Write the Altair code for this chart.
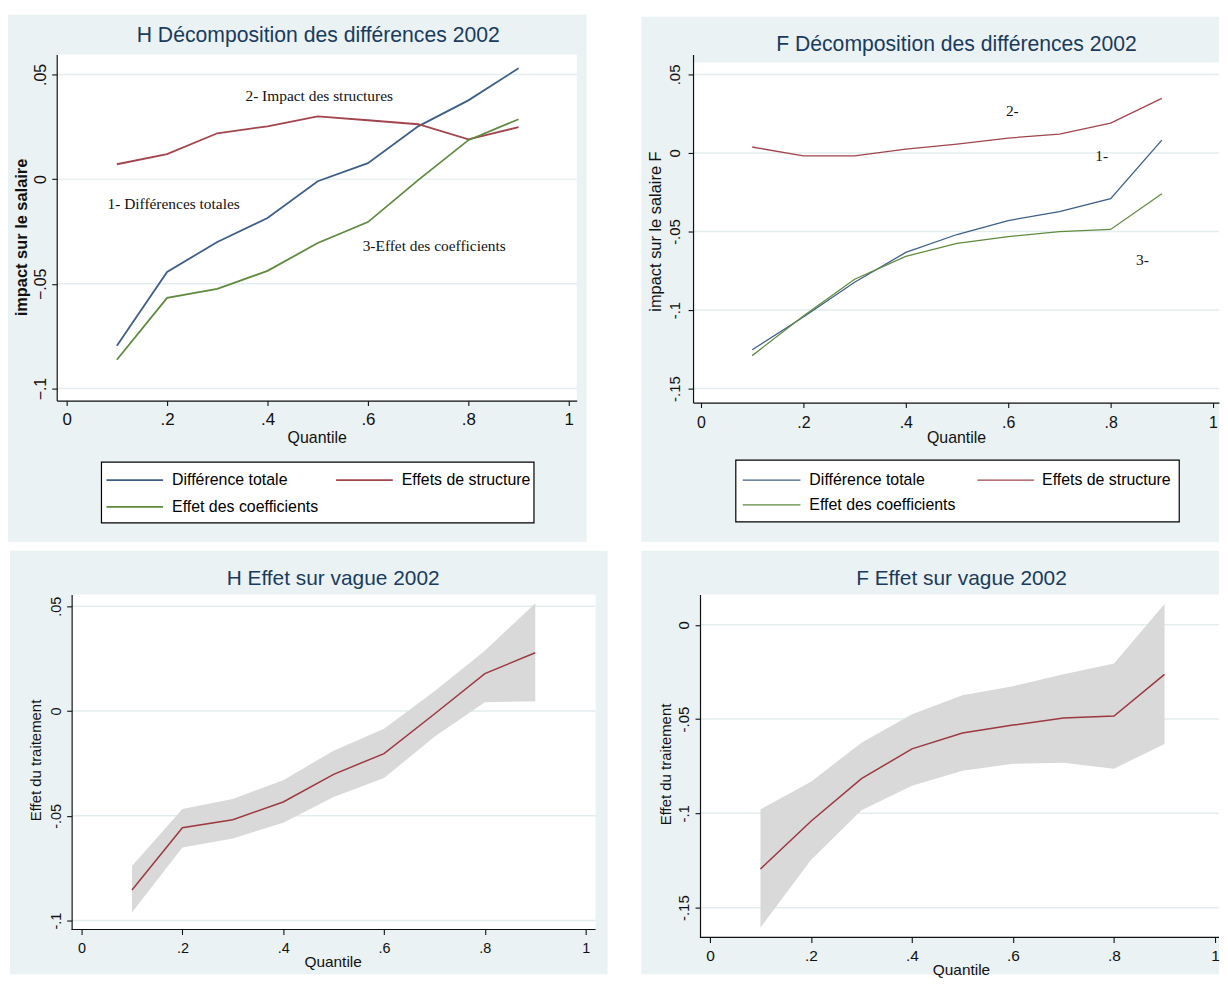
import altair as alt
import pandas as pd

# ---------------- data ----------------
quantiles = [0.1, 0.2, 0.3, 0.4, 0.5, 0.6, 0.7, 0.8, 0.9]
series_names = ["Différence totale", "Effets de structure", "Effet des coefficients"]
x_ticks = [0, 0.2, 0.4, 0.6, 0.8, 1]

# H : décomposition
h_total = [-0.0795, -0.0443, -0.0300, -0.0186, -0.0010, 0.0076, 0.0252, 0.0376, 0.0529]
h_structure = [0.0071, 0.0119, 0.0219, 0.0252, 0.0300, 0.0281, 0.0262, 0.0190, 0.0248]
h_coef = [-0.0862, -0.0567, -0.0524, -0.0438, -0.0305, -0.0205, -0.0005, 0.0186, 0.0286]
h_dec_yticks = [0.05, 0, -0.05, -0.1]
h_notes = ["2- Impact des structures", "1- Différences totales", "3-Effet des coefficients"]
h_notes_q = [0.503, 0.213, 0.732]
h_notes_v = [0.0395, -0.0119, -0.0319]

# F : décomposition
f_total = [-0.1253, -0.1044, -0.0823, -0.0633, -0.0519, -0.0430, -0.0373, -0.0291, 0.0082]
f_structure = [0.0038, -0.0019, -0.0019, 0.0025, 0.0057, 0.0095, 0.0120, 0.0190, 0.0348]
f_coef = [-0.1290, -0.1038, -0.0804, -0.0658, -0.0576, -0.0532, -0.0500, -0.0487, -0.0260]
f_dec_yticks = [0.05, 0, -0.05, -0.1, -0.15]
f_notes = ["2-", "1-", "3-"]
f_notes_q = [0.608, 0.7825, 0.862]
f_notes_v = [0.0266, -0.0019, -0.0684]

# H : effet sur vague
h_effect = [-0.0854, -0.0557, -0.0519, -0.0434, -0.0302, -0.0203, -0.0014, 0.0179, 0.0278]
h_upper = [-0.0740, -0.0467, -0.0420, -0.0330, -0.0189, -0.0085, 0.0094, 0.0288, 0.0514]
h_lower = [-0.0962, -0.0651, -0.0608, -0.0533, -0.0410, -0.0320, -0.0123, 0.0042, 0.0047]
h_eff_yticks = [0.05, 0, -0.05, -0.1]

# F : effet sur vague
f_effect = [-0.1295, -0.1042, -0.0816, -0.0658, -0.0574, -0.0532, -0.0495, -0.0484, -0.0263]
f_upper = [-0.0979, -0.0832, -0.0626, -0.0474, -0.0374, -0.0326, -0.0263, -0.0205, 0.0110]
f_lower = [-0.1605, -0.1247, -0.0984, -0.0853, -0.0774, -0.0737, -0.0732, -0.0763, -0.0632]
f_eff_yticks = [0, -0.05, -0.1, -0.15]

# ---------------- styles ----------------
FONT = "Liberation Sans"
SERIF = "Liberation Serif"
PANEL_BG = "#eaf2f3"
GRID = "#e3edef"
INK = "#111111"
TITLE_C = "#1a3b5d"
SERIES_COLORS = ["#3d5f87", "#a2444c", "#5f8a3f"]
BAND = "#d9d9d9"
EFFECT_C = "#9b3840"

one = pd.DataFrame({"k": [0]})


def long_df(values_by_series):
    rows = []
    for name, vals in zip(series_names, values_by_series):
        for q, v in zip(quantiles, vals):
            rows.append({"q": q, "v": v, "serie": name})
    return pd.DataFrame(rows)


def band_df(mid, lo, hi):
    return pd.DataFrame({"q": quantiles, "v": mid, "lo": lo, "hi": hi})


def label_expr(minus):
    e = "replace(replace(format(datum.value, '~g'), '\u2212', '-'), '0.', '.')"
    if minus != "-":
        e = "replace(" + e + ", '-', '" + minus + "')"
    return e


def x_axis(fs, pad, domain=True):
    return alt.Axis(values=x_ticks, labelExpr=label_expr("-"), title=None, grid=False,
                    domain=domain, domainColor=INK, domainWidth=1.2, tickSize=5,
                    tickColor=INK, tickWidth=1.1, labelFont=FONT, labelFontSize=fs,
                    labelColor=INK, labelPadding=pad, labelFlush=False,
                    labelOverlap=False, zindex=1)


def y_axis(ticks, fs, pad, minus, offset=0):
    return alt.Axis(values=ticks, labelExpr=label_expr(minus), title=None, grid=False,
                    domainColor=INK, domainWidth=1.2, tickSize=5, tickColor=INK,
                    tickWidth=1.1, labelFont=FONT, labelFontSize=fs, labelColor=INK,
                    labelPadding=pad, labelAngle=270, labelAlign="center",
                    labelBaseline="bottom", labelFlush=False, labelOverlap=False,
                    offset=offset, zindex=1)


def rect(x, x2, y, y2, color, stroke=None):
    kw = dict(color=color, strokeWidth=0)
    if stroke:
        kw = dict(fill=color, stroke=stroke, strokeWidth=1.2)
    return alt.Chart(one).mark_rect(**kw).encode(
        x=alt.value(x), x2=alt.value(x2), y=alt.value(y), y2=alt.value(y2))


def text(t, x, y, size, angle=0, font=FONT, weight="normal", color=INK, align="center"):
    kw = dict(text=t, fontSize=size, font=font, fontWeight=weight, color=color,
              align=align, baseline="middle")
    if angle:
        kw["angle"] = angle
    return alt.Chart(one).mark_text(**kw).encode(x=alt.value(x), y=alt.value(y))


def legend_layers(box, slots, lw, fs):
    # box = (x, x2, y, y2); slots = [(line_x, line_x2, text_x, y) per series]
    layers = [rect(box[0], box[1], box[2], box[3], "#ffffff", stroke="#000000")]
    for name, color, (lx, lx2, tx, ty) in zip(series_names, SERIES_COLORS, slots):
        layers.append(alt.Chart(one).mark_rule(color=color, strokeWidth=lw).encode(
            x=alt.value(lx), x2=alt.value(lx2), y=alt.value(ty)))
        layers.append(text(name, tx, ty, fs, color="#000000", align="left"))
    return layers


def decomposition_panel(w, h, xdom, ydom, yticks, minus, values, notes, notes_q, notes_v,
                        fs_x, pad_x, fs_y, pad_y, bg, white_y0, title, title_xy,
                        xt_xy, yt_xy, yt_size, yt_weight, leg_box, leg_slots, lw):
    xs = alt.Scale(domain=xdom, nice=False, zero=False)
    ys = alt.Scale(domain=ydom, nice=False, zero=False)
    xax = x_axis(fs_x, pad_x)
    yax = y_axis(yticks, fs_y, pad_y, minus)

    def X(f):
        return alt.X(f + ":Q", scale=xs, axis=xax)

    def Y(f):
        return alt.Y(f + ":Q", scale=ys, axis=yax)

    grid = alt.Chart(pd.DataFrame({"v": yticks})).mark_rule(color=GRID, strokeWidth=1.5).encode(
        y=Y("v"), x=alt.value(0), x2=alt.value(w))
    lines = alt.Chart(long_df(values)).mark_line(strokeWidth=lw).encode(
        x=X("q"), y=Y("v"),
        color=alt.Color("serie:N", scale=alt.Scale(domain=series_names, range=SERIES_COLORS),
                        legend=None))
    ann = alt.Chart(pd.DataFrame({"q": notes_q, "v": notes_v, "t": notes})).mark_text(
        font=SERIF, fontSize=15.5, color=INK).encode(x=X("q"), y=Y("v"), text="t:N")
    return alt.layer(
        rect(bg[0], bg[1], bg[2], bg[3], PANEL_BG),
        rect(0, w, white_y0, h, "#ffffff"),
        grid, lines, ann,
        text(title, title_xy[0], title_xy[1], 21.3, color=TITLE_C),
        text("Quantile", xt_xy[0], xt_xy[1], 16),
        text(yt_xy[2], yt_xy[0], yt_xy[1], yt_size, angle=270, weight=yt_weight),
        *legend_layers(leg_box, leg_slots, lw, 16),
    ).properties(width=w, height=h)


def effect_panel(w, h, xdom, ydom, yticks, mid, lo, hi, fs_x, pad_x, fs_y, pad_y,
                 y_off, bg, title, title_xy, xt_xy, yt_xy):
    xs = alt.Scale(domain=xdom, nice=False, zero=False)
    ys = alt.Scale(domain=ydom, nice=False, zero=False)
    xax = x_axis(fs_x, pad_x, domain=False)
    yax = y_axis(yticks, fs_y, pad_y, "-", offset=-y_off)

    def X(f):
        return alt.X(f + ":Q", scale=xs, axis=xax)

    def Y(f):
        return alt.Y(f + ":Q", scale=ys, axis=yax)

    df = band_df(mid, lo, hi)
    grid = alt.Chart(pd.DataFrame({"v": yticks})).mark_rule(color=GRID, strokeWidth=1.5).encode(
        y=Y("v"), x=alt.value(y_off), x2=alt.value(w))
    band = alt.Chart(df).mark_area(color=BAND, opacity=1).encode(
        x=X("q"), y=Y("lo"), y2=alt.Y2("hi"))
    line = alt.Chart(df).mark_line(color=EFFECT_C, strokeWidth=1.5).encode(x=X("q"), y=Y("v"))
    xline = alt.Chart(one).mark_rule(color=INK, strokeWidth=1.2).encode(
        x=alt.value(y_off), x2=alt.value(w), y=alt.value(h))
    return alt.layer(
        rect(bg[0], bg[1], bg[2], bg[3], PANEL_BG),
        rect(y_off, w, 0, h, "#ffffff"),
        grid, band, line, xline,
        text(title, title_xy[0], title_xy[1], 21, color=TITLE_C),
        text("Quantile", xt_xy[0], xt_xy[1], 15.5),
        text("Effet du traitement", yt_xy[0], yt_xy[1], 15, angle=270),
    ).properties(width=w, height=h)


p1 = decomposition_panel(
    523, 348, [-0.0198, 1.0158], [-0.1057, 0.05947], h_dec_yticks, "\u2212",
    [h_total, h_structure, h_coef], h_notes, h_notes_q, h_notes_v,
    17, 6, 16, 3, (-49, 533, -40, 490), 0,
    "H Décomposition des différences 2002", (263, -19), (262, 386),
    (-35, 184, "impact sur le salaire"), 16.5, "bold",
    (45, 480, 410, 471), [(50, 107, 116, 428), (281, 338, 347, 428), (50, 107, 116, 455)], 1.8)

p2 = decomposition_panel(
    529, 350, [-0.01553, 1.01165], [-0.15886, 0.06266], f_dec_yticks, "-",
    [f_total, f_structure, f_coef], f_notes, f_notes_q, f_notes_v,
    16, 7, 15, 6, (-52, 529, -38, 490), 8,
    "F Décomposition des différences 2002", (265, -10), (265, 386),
    (-37, 178, "impact sur le salaire F"), 16.5, "normal",
    (43, 489, 408, 470), [(50, 108, 117, 428), (286, 343, 351, 428), (50, 108, 117, 453)], 1.3)

p3 = effect_panel(
    542, 337, [-0.04931, 1.01972], [-0.10427, 0.05567], h_eff_yticks,
    h_effect, h_lower, h_upper, 14.5, 7, 14.5, 3, 15, (-47, 554, -44, 382),
    "H Effet sur vague 2002", (278, -15), (278, 370), (-21, 167))

p4 = effect_panel(
    529, 345, [-0.03346, 1.00787], [-0.16579, 0.01608], f_eff_yticks,
    f_effect, f_lower, f_upper, 15.5, 6.5, 15, 4, 7, (-52, 529, -44, 382),
    "F Effet sur vague 2002", (270, -15), (270, 378), (-27, 171))

chart = alt.concat(
    p1, p2, p3, p4, columns=2,
    spacing=alt.RowColnumber(row=193, column=98), bounds="flush"
).resolve_scale(color="independent").properties(
    padding={"left": 0, "top": 4, "right": 0, "bottom": 0}, background="#ffffff"
).configure_view(stroke=None)

chart.save("out.html", embed_options={"renderer": "svg", "actions": False})
